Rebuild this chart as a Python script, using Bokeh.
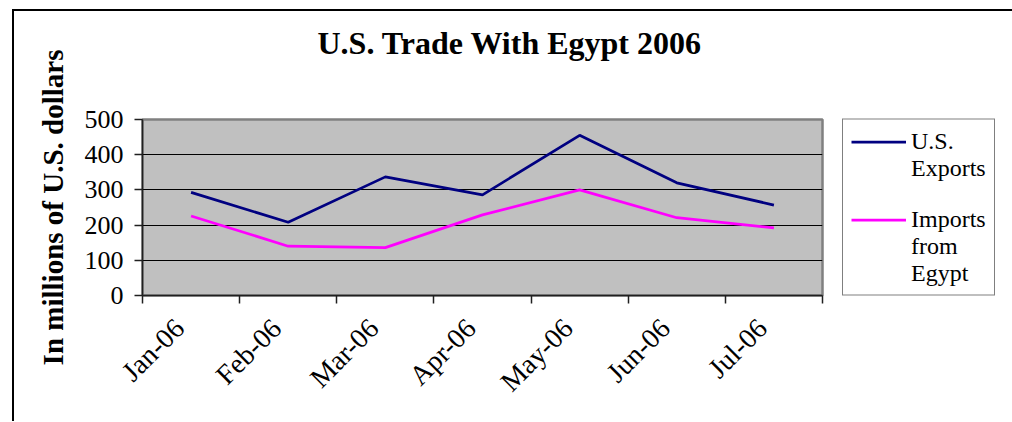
import math
from bokeh.plotting import figure
from bokeh.models import Legend, LegendItem, FixedTicker, Range1d, Title
from bokeh.embed import file_html
from bokeh.resources import INLINE

months = ["Jan-06", "Feb-06", "Mar-06", "Apr-06", "May-06", "Jun-06", "Jul-06"]
exports = [293, 208, 337, 286, 455, 320, 257]
imports = [226, 140, 136, 229, 300, 221, 192]
y_ticks = [0, 100, 200, 300, 400, 500]
legend_rows = [["U.S.", "Exports"], ["Imports", "from", "Egypt"]]

FONT = "Liberation Serif"

xs = [i + 0.5 for i in range(len(months))]
label_pos = [x - 0.12 for x in xs]

p = figure(frame_width=680, frame_height=176, output_backend="svg", toolbar_location=None,
           x_range=Range1d(0, len(months)), y_range=Range1d(0, 500),
           min_border_left=128, min_border_right=183, min_border_top=108,
           min_border_bottom=126, margin=(9, 0, 0, 12))
p.styles = {"border-left": "2px solid black", "border-top": "2px solid black",
            "border-right": "2px solid black"}

p.background_fill_color = "#C0C0C0"
p.border_fill_color = "white"
p.outline_line_color = "#808080"
p.outline_line_width = 2.5

# spacer between title and frame
p.add_layout(Title(text=" ", text_font_size="2px", standoff=50), "above")

p.title.text = "U.S. Trade With Egypt 2006"
p.title.text_font = FONT
p.title.text_font_size = "32px"
p.title.text_font_style = "bold"
p.title.text_color = "black"
p.title.align = "left"
p.title.offset = 175
p.title.standoff = 10

# y axis
p.yaxis.ticker = FixedTicker(ticks=y_ticks)
p.yaxis.axis_label = "In millions of U.S. dollars"
p.yaxis.axis_label_text_font = FONT
p.yaxis.axis_label_text_font_size = "29px"
p.yaxis.axis_label_text_font_style = "bold"
p.yaxis.axis_label_text_color = "black"
p.yaxis.axis_label_standoff = 13
p.yaxis.major_label_text_font = FONT
p.yaxis.major_label_text_font_size = "26px"
p.yaxis.major_label_text_color = "black"
p.yaxis.major_label_standoff = 11
p.yaxis.major_tick_out = 8
p.yaxis.major_tick_in = 0
p.yaxis.minor_tick_out = 0
p.yaxis.axis_line_color = "#202020"
p.yaxis.axis_line_width = 1.5
p.yaxis.major_tick_line_color = "#202020"
p.yaxis.major_tick_line_width = 1.5

p.ygrid.ticker = FixedTicker(ticks=y_ticks[1:-1])
p.ygrid.grid_line_color = "black"
p.ygrid.grid_line_width = 1
p.xgrid.grid_line_color = None

# x axis: labels near category centres, tick marks at category boundaries
p.xaxis.ticker = FixedTicker(ticks=label_pos, minor_ticks=list(range(len(months) + 1)))
p.xaxis.major_label_overrides = {x: m for x, m in zip(label_pos, months)}
p.xaxis.major_label_orientation = math.pi / 4
p.xaxis.major_label_text_font = FONT
p.xaxis.major_label_text_font_size = "28px"
p.xaxis.major_label_text_color = "black"
p.xaxis.major_label_standoff = 20
p.xaxis.major_tick_out = 0
p.xaxis.major_tick_in = 0
p.xaxis.minor_tick_out = 8
p.xaxis.minor_tick_in = 0
p.xaxis.minor_tick_line_color = "#202020"
p.xaxis.minor_tick_line_width = 1.5
p.xaxis.axis_line_color = "#202020"
p.xaxis.axis_line_width = 1.5

r1 = p.line(xs, exports, line_color="#000080", line_width=2.75)
r2 = p.line(xs, imports, line_color="#FF00FF", line_width=2.75)
blank = p.line([], [], line_alpha=0)  # carries the legend's continuation rows

items = [LegendItem(label=legend_rows[0][0], renderers=[r1])]
items += [LegendItem(label=t, renderers=[blank]) for t in legend_rows[0][1:]]
items += [LegendItem(label=" ", renderers=[blank])]
items += [LegendItem(label=legend_rows[1][0], renderers=[r2])]
items += [LegendItem(label=t, renderers=[blank]) for t in legend_rows[1][1:]]

legend = Legend(items=items, location="center_left")
legend.margin = 20
legend.label_text_font = FONT
legend.label_text_font_size = "24px"
legend.label_text_color = "black"
legend.label_height = 24
legend.glyph_height = 24
legend.glyph_width = 55
legend.label_standoff = 5
legend.padding = 8
legend.spacing = 0
legend.border_line_color = "black"
legend.border_line_width = 1
legend.background_fill_color = "white"
legend.background_fill_alpha = 1
p.add_layout(legend, "right")

open("out.html", "w").write(file_html(p, INLINE))
